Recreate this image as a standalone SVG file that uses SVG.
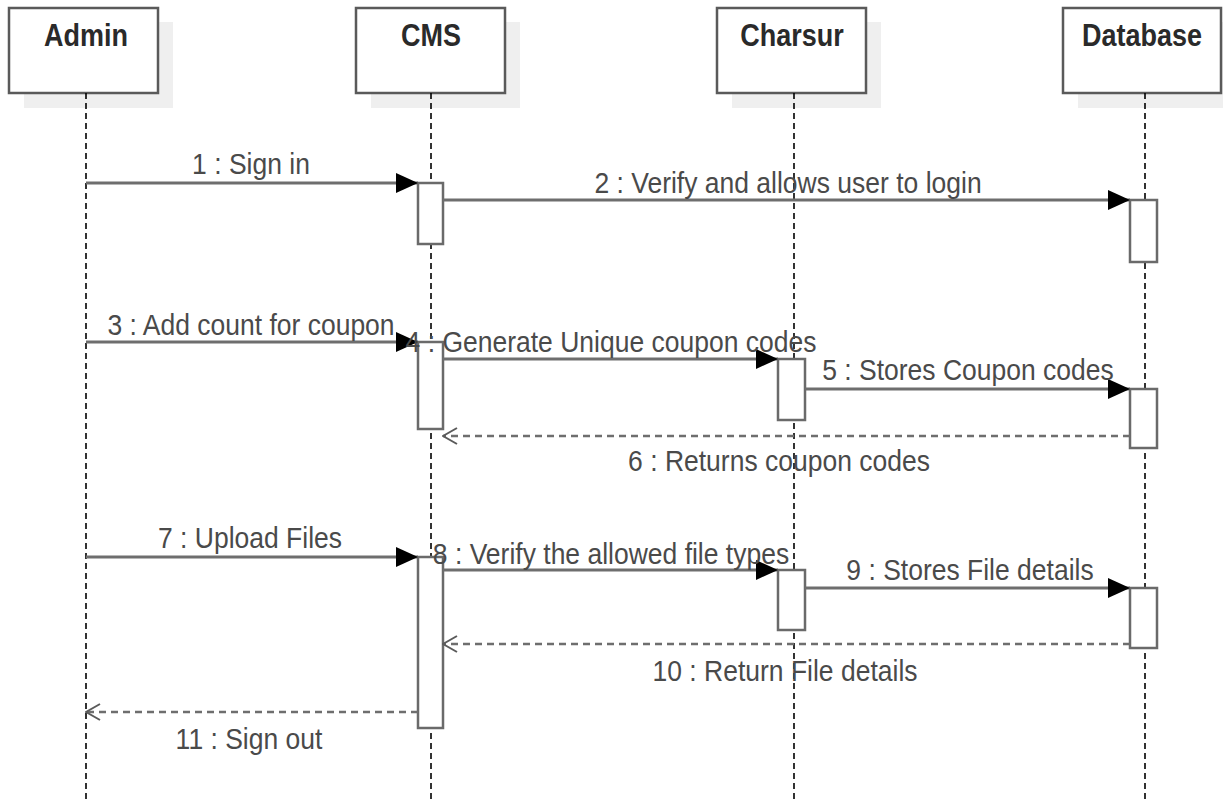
<svg xmlns="http://www.w3.org/2000/svg" width="1223" height="799" viewBox="0 0 1223 799">
<defs>
<style>
.hdr{fill:#fff;stroke:#5a5a5a;stroke-width:2.5}
.shd{fill:#efefef}
.htxt{font-family:"Liberation Sans",Arial,sans-serif;font-weight:bold;font-size:27px;fill:#2a2a2a;text-anchor:middle}
.life{stroke:#000;stroke-width:1.6;stroke-dasharray:6 4;fill:none}
.act{fill:#fff;stroke:#6a6a6a;stroke-width:2.5}
.msg{stroke:#6e6e6e;stroke-width:3;fill:none}
.ret{stroke:#6e6e6e;stroke-width:2.5;stroke-dasharray:7 5;fill:none}
.lbl{font-family:"Liberation Sans",Arial,sans-serif;font-size:26.5px;fill:#4a4a4a;text-anchor:middle}
</style>
<marker id="filled" viewBox="0 0 22 20" refX="22" refY="10" markerWidth="22" markerHeight="20" markerUnits="userSpaceOnUse" orient="auto">
<path d="M0,0 L22,10 L0,20 Z" fill="#000"/>
</marker>
<marker id="open" viewBox="0 0 16 20" refX="15" refY="10" markerWidth="16" markerHeight="20" markerUnits="userSpaceOnUse" orient="auto">
<path d="M1,2 L15,10 L1,18" fill="none" stroke="#5a5a5a" stroke-width="2"/>
</marker>
</defs>
<rect width="1223" height="799" fill="#fff"/>

<g id="admin">
<rect class="shd" x="24" y="22" width="149" height="86"/>
<rect class="hdr" x="9" y="8" width="149" height="85"/>
<text class="htxt" transform="translate(86,46) scale(1,1.17)">Admin</text>
<line class="life" x1="86" y1="93" x2="86" y2="799"/>
</g>
<g id="cms">
<rect class="shd" x="371" y="22" width="149" height="86"/>
<rect class="hdr" x="356" y="8" width="149" height="85"/>
<text class="htxt" transform="translate(431,46) scale(1,1.17)">CMS</text>
<line class="life" x1="431" y1="93" x2="431" y2="799"/>
</g>
<g id="charsur">
<rect class="shd" x="732" y="22" width="149" height="86"/>
<rect class="hdr" x="717" y="8" width="149" height="85"/>
<text class="htxt" transform="translate(792,46) scale(1,1.17)">Charsur</text>
<line class="life" x1="794" y1="93" x2="794" y2="799"/>
</g>
<g id="database">
<rect class="shd" x="1078" y="22" width="149" height="86"/>
<rect class="hdr" x="1063" y="8" width="158" height="85"/>
<text class="htxt" transform="translate(1142,46) scale(1,1.17)">Database</text>
<line class="life" x1="1145" y1="93" x2="1145" y2="799"/>
</g>

<g id="activations">
<rect class="act" x="418" y="183" width="25" height="61"/>
<rect class="act" x="1130" y="200" width="27" height="62"/>
<rect class="act" x="418" y="342" width="25" height="87"/>
<rect class="act" x="778" y="359" width="27" height="61"/>
<rect class="act" x="1130" y="389" width="27" height="59"/>
<rect class="act" x="418" y="557" width="25" height="171"/>
<rect class="act" x="778" y="570" width="27" height="60"/>
<rect class="act" x="1130" y="588" width="27" height="60"/>
</g>

<g id="connectors">
<line class="msg" x1="86" y1="183" x2="418" y2="183" marker-end="url(#filled)"/>
<line class="msg" x1="443" y1="200" x2="1130" y2="200" marker-end="url(#filled)"/>
<line class="msg" x1="86" y1="342" x2="418" y2="342" marker-end="url(#filled)"/>
<line class="msg" x1="443" y1="359" x2="778" y2="359" marker-end="url(#filled)"/>
<line class="msg" x1="805" y1="389" x2="1130" y2="389" marker-end="url(#filled)"/>
<line class="ret" x1="1130" y1="436" x2="443" y2="436" marker-end="url(#open)"/>
<line class="msg" x1="86" y1="557" x2="418" y2="557" marker-end="url(#filled)"/>
<line class="msg" x1="443" y1="570" x2="778" y2="570" marker-end="url(#filled)"/>
<line class="msg" x1="805" y1="588" x2="1130" y2="588" marker-end="url(#filled)"/>
<line class="ret" x1="1130" y1="644" x2="443" y2="644" marker-end="url(#open)"/>
<line class="ret" x1="418" y1="712" x2="86" y2="712" marker-end="url(#open)"/>
</g>

<g id="labels">
<text class="lbl" transform="translate(251,174) scale(1,1.1)">1 : Sign in</text>
<text class="lbl" transform="translate(788,193) scale(1,1.1)">2 : Verify and allows user to login</text>
<text class="lbl" transform="translate(251,335) scale(1,1.1)">3 : Add count for coupon</text>
<text class="lbl" transform="translate(611,352) scale(1,1.1)">4 : Generate Unique coupon codes</text>
<text class="lbl" transform="translate(968,380) scale(1,1.1)">5 : Stores Coupon codes</text>
<text class="lbl" transform="translate(779,471) scale(1,1.1)">6 : Returns coupon codes</text>
<text class="lbl" transform="translate(250,548) scale(1,1.1)">7 : Upload Files</text>
<text class="lbl" transform="translate(611,564) scale(1,1.1)">8 : Verify the allowed file types</text>
<text class="lbl" transform="translate(970,580) scale(1,1.1)">9 : Stores File details</text>
<text class="lbl" transform="translate(785,681) scale(1,1.1)">10 : Return File details</text>
<text class="lbl" transform="translate(249,749) scale(1,1.1)">11 : Sign out</text>
</g>
</svg>
